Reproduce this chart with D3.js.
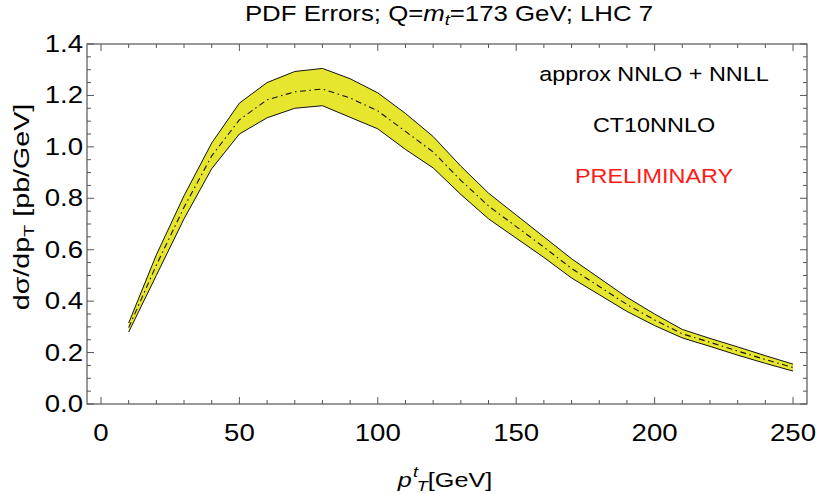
<!DOCTYPE html>
<html><head><meta charset="utf-8">
<script src="https://cdn.jsdelivr.net/npm/d3@7"></script>
<style>body{margin:0;background:#fff;} svg{display:block;} text{font-family:"Liberation Sans",Arial,sans-serif;}</style>
</head><body>
<svg id="c" width="816" height="494"></svg>
<script>
const ptValues = [10,20,30,40,50,60,70,80,90,100,110,120,130,140,150,160,170,180,190,200,210,220,230,240,250];
const upperValues = [0.315,0.58,0.81,1.015,1.17,1.25,1.293,1.305,1.265,1.21,1.13,1.04,0.925,0.82,0.735,0.65,0.565,0.49,0.415,0.35,0.29,0.255,0.222,0.188,0.155];
const lowerValues = [0.28,0.50,0.72,0.915,1.05,1.113,1.15,1.16,1.115,1.07,0.99,0.918,0.815,0.72,0.645,0.57,0.49,0.425,0.36,0.305,0.257,0.224,0.19,0.158,0.128];
const centralValues = [0.297,0.54,0.765,0.965,1.105,1.183,1.214,1.225,1.19,1.14,1.06,0.98,0.87,0.77,0.69,0.61,0.527,0.457,0.387,0.327,0.273,0.24,0.206,0.173,0.142];
const xMajorTicks = [0,50,100,150,200,250];
const yMajorTicks = [0.0,0.2,0.4,0.6,0.8,1.0,1.2,1.4];
const annotations = ["approx NNLO + NNLL","CT10NNLO","PRELIMINARY"];

const SX = 1.2; // horizontal stretch of the text glyphs
const svg = d3.select("#c");
const L=87, R=807, T=44, B=404;
const x = d3.scaleLinear().domain([-5.05,255.05]).range([L,R]);
const y = d3.scaleLinear().domain([0,1.4]).range([B,T]);

const data = ptValues.map((p,i)=>({p, u:upperValues[i], l:lowerValues[i], c:centralValues[i]}));

// band
svg.append("path").datum(data)
  .attr("d", d3.area().x(d=>x(d.p)).y0(d=>y(d.l)).y1(d=>y(d.u)))
  .attr("fill","#e6e62e").attr("stroke","none");
svg.append("path").datum(data).attr("d", d3.line().x(d=>x(d.p)).y(d=>y(d.u)))
  .attr("fill","none").attr("stroke","#111").attr("stroke-width",1);
svg.append("path").datum(data).attr("d", d3.line().x(d=>x(d.p)).y(d=>y(d.l)))
  .attr("fill","none").attr("stroke","#111").attr("stroke-width",1);
svg.append("path").datum(data).attr("d", d3.line().x(d=>x(d.p)).y(d=>y(d.c)))
  .attr("fill","none").attr("stroke","#111").attr("stroke-width",1.1)
  .attr("stroke-dasharray","6,3.5,1.5,3.5");

// frame
svg.append("rect").attr("x",L).attr("y",T).attr("width",R-L).attr("height",B-T)
  .attr("fill","none").attr("stroke","#555").attr("stroke-width",1.2);

const xMinor = d3.range(0,251,10).filter(v=>!xMajorTicks.includes(v));
const yMinor = d3.range(0,1.4001,0.05).map(v=>+v.toFixed(2)).filter(v=>!yMajorTicks.some(t=>Math.abs(t-v)<1e-6));
const tk = svg.append("g").attr("stroke","#555").attr("stroke-width",1);
xMajorTicks.forEach(v=>{
  tk.append("line").attr("x1",x(v)).attr("x2",x(v)).attr("y1",B).attr("y2",B-7);
  tk.append("line").attr("x1",x(v)).attr("x2",x(v)).attr("y1",T).attr("y2",T+7);
});
xMinor.forEach(v=>{
  tk.append("line").attr("x1",x(v)).attr("x2",x(v)).attr("y1",B).attr("y2",B-4);
  tk.append("line").attr("x1",x(v)).attr("x2",x(v)).attr("y1",T).attr("y2",T+4);
});
yMajorTicks.forEach(v=>{
  tk.append("line").attr("y1",y(v)).attr("y2",y(v)).attr("x1",L).attr("x2",L+7);
  tk.append("line").attr("y1",y(v)).attr("y2",y(v)).attr("x1",R).attr("x2",R-7);
});
yMinor.forEach(v=>{
  tk.append("line").attr("y1",y(v)).attr("y2",y(v)).attr("x1",L).attr("x2",L+4);
  tk.append("line").attr("y1",y(v)).attr("y2",y(v)).attr("x1",R).attr("x2",R-4);
});

function stretched(px, py, extra, sx){
  return svg.append("g").attr("transform",`translate(${px},${py})${extra||""} scale(${sx||SX},1)`)
    .append("text").attr("x",0).attr("y",0);
}

// tick labels
xMajorTicks.forEach(v=>{
  stretched(x(v),441).attr("text-anchor","middle").attr("font-size",23).text(v);
});
yMajorTicks.forEach(v=>{
  stretched(83,y(v)+8).attr("text-anchor","end").attr("font-size",23).text(v.toFixed(1));
});

// title
const t = stretched(449,21).attr("text-anchor","middle").attr("font-size",21.5);
t.append("tspan").text("PDF Errors; Q=");
t.append("tspan").attr("font-style","italic").text("m");
t.append("tspan").attr("font-style","italic").attr("font-size",15).attr("dy",4).text("t");
t.append("tspan").attr("dy",-4).text("=173 GeV; LHC 7");

// x title
const xt = stretched(445,487).attr("text-anchor","middle").attr("font-size",21);
xt.append("tspan").attr("font-style","italic").text("p");
xt.append("tspan").attr("font-style","italic").attr("font-size",15).attr("dy",-10).attr("dx",1).text("t");
xt.append("tspan").attr("font-style","italic").attr("font-size",15).attr("dy",14).attr("dx",-1).text("T");
xt.append("tspan").attr("dy",-4).text("[GeV]");

// y title
const yt = stretched(29,207," rotate(-90)",1.3).attr("text-anchor","middle").attr("font-size",22);
yt.append("tspan").text("d\u03C3/dp");
yt.append("tspan").attr("font-size",15.5).attr("dy",5).text("T");
yt.append("tspan").attr("dy",-5).text(" [pb/GeV]");

// annotations
const ay = [81,132,183];
annotations.forEach((a,i)=>{
  stretched(654,ay[i]).attr("text-anchor","middle").attr("font-size",19.5)
    .attr("fill",i===2?"#ff1a1a":"#000").text(a);
});
</script>
</body></html>
